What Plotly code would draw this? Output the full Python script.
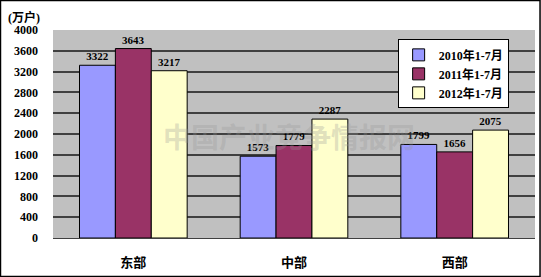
import plotly.graph_objects as go

categories = ["东部", "中部", "西部"]
series_names = ["2010年1-7月", "2011年1-7月", "2012年1-7月"]
values_2010 = [3322, 1573, 1799]
values_2011 = [3643, 1779, 1656]
values_2012 = [3217, 2287, 2075]
colors = ["#9999FF", "#993366", "#FFFFCC"]
y_ticks = list(range(0, 4001, 400))

FONT = "Liberation Serif, 'Noto Sans CJK SC', serif"

def f(size, color="black", family=FONT):
    return dict(family=family, size=size, color=color, weight="bold")

fig = go.Figure()
for name, vals, col in zip(series_names, [values_2010, values_2011, values_2012], colors):
    fig.add_trace(go.Bar(
        name=name, x=categories, y=vals,
        marker=dict(color=col, line=dict(color="black", width=1)),
        text=[str(v) for v in vals], textposition="outside",
        textfont=f(11),
        cliponaxis=False,
    ))

fig.update_layout(
    width=541, height=277,
    margin=dict(l=53, r=6, t=30, b=39),
    paper_bgcolor="white", plot_bgcolor="#C0C0C0",
    barmode="group", bargap=0.33, bargroupgap=0,
    font=f(12),
    showlegend=True,
    legend=dict(x=0.715, y=0.955, xanchor="left", yanchor="top",
                bgcolor="white", bordercolor="black", borderwidth=1,
                font=f(12), tracegroupgap=0, itemwidth=30),
    xaxis=dict(showgrid=False, showline=True, linecolor="#404040", linewidth=1,
               tickfont=f(13), ticks="", ticklabelstandoff=12),
    yaxis=dict(range=[0, 4000], tickvals=y_ticks, showgrid=True,
               gridcolor="#404040", gridwidth=1.5, zeroline=False,
               showline=False, ticks="", tickfont=f(12), ticklabelstandoff=14),
)

# outer frame of the picture
fig.add_shape(type="rect", xref="paper", yref="paper",
              x0=-53/482 + 0.001, x1=1 + 6/482 - 0.002,
              y0=-39/208 + 0.003, y1=1 + 30/208 - 0.003,
              line=dict(color="black", width=1.5), fillcolor="rgba(0,0,0,0)", layer="above")

fig.add_annotation(text="(万户)", xref="paper", yref="paper",
                   x=-53/482 + 0.012, y=1 + 30/208 - 0.04, xanchor="left", yanchor="top",
                   showarrow=False, font=f(12))

fig.add_annotation(text="中国产业竞争情报网", xref="paper", yref="paper",
                   x=0.49, y=0.49, showarrow=False,
                   font=f(28, "rgba(150,150,150,0.3)", "'Noto Sans CJK SC'"))

fig.write_html("out.html")
